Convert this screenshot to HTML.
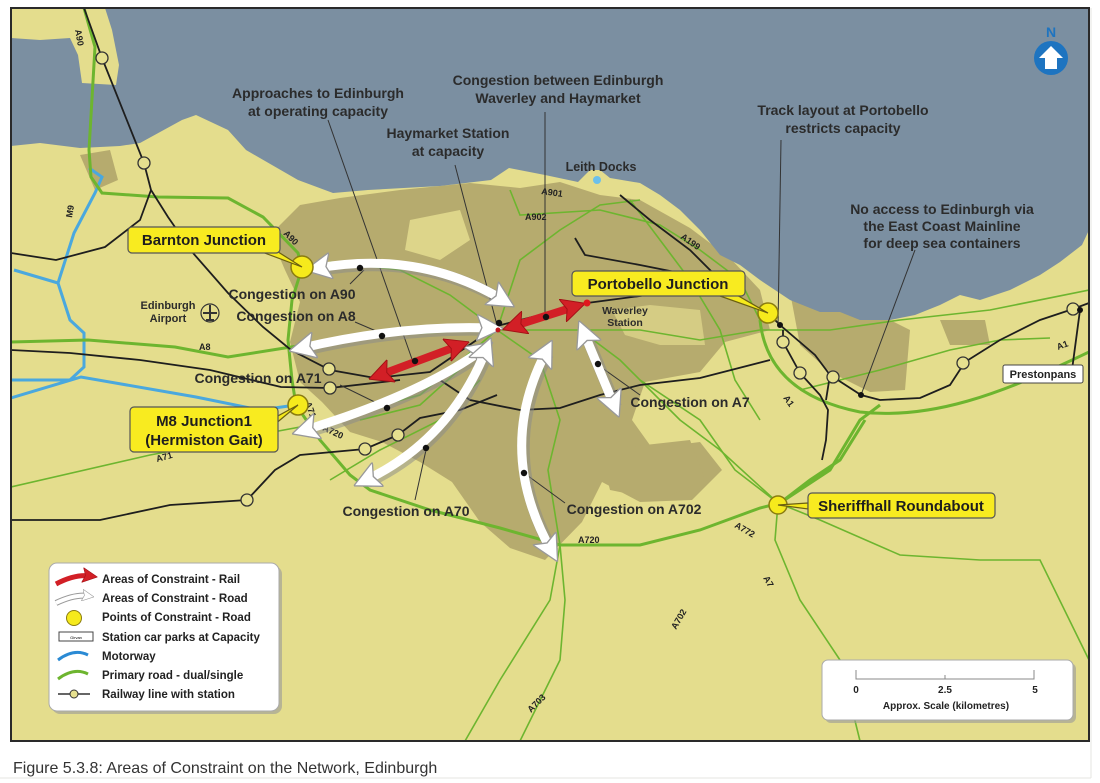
<!DOCTYPE html>
<html><head><meta charset="utf-8">
<style>
html,body{margin:0;padding:0;background:#fff;}
svg{display:block;}
text{font-family:"Liberation Sans",Arial,sans-serif;}
.lb{font-weight:bold;font-size:14px;fill:#2b2b2b;text-anchor:middle;}
.sm{font-weight:bold;font-size:9px;fill:#222;}
.lg{font-weight:bold;font-size:11.5px;fill:#222;}
</style></head>
<body>
<svg width="1100" height="783" viewBox="0 0 1100 783" xmlns="http://www.w3.org/2000/svg">
<defs>
<marker id="wh" viewBox="0 0 10 10" refX="5" refY="5" markerWidth="3" markerHeight="3" orient="auto-start-reverse" markerUnits="strokeWidth">
<path d="M0,0 L10,5 L0,10 L2,5 Z" fill="#fff" stroke="#999" stroke-width="0.5"/>
</marker>
<marker id="rd" viewBox="0 0 10 10" refX="5" refY="5" markerWidth="3" markerHeight="3" orient="auto-start-reverse" markerUnits="strokeWidth">
<path d="M0,0 L10,5 L0,10 L2,5 Z" fill="#d21f26" stroke="#a31015" stroke-width="0.4"/>
</marker>
<clipPath id="cp"><rect x="11" y="8" width="1078" height="733"/></clipPath>
</defs>
<rect width="1100" height="783" fill="#fff"/>
<g clip-path="url(#cp)">
<rect x="11" y="8" width="1078" height="733" fill="#e4dd8d"/>
<path d="M270,235 L300,205 L340,198 L400,190 L470,183 L520,188 L560,182 L600,195 L640,200 L690,228 L730,258 L760,290 L770,330 L725,342 L700,372 L645,382 L632,420 L652,448 L700,442 L722,470 L692,500 L640,502 L602,482 L582,522 L545,560 L510,548 L480,522 L452,482 L420,462 L382,442 L350,432 L322,402 L300,382 L290,342 L300,302 L285,270 Z" fill="#b6ab6e"/>
<path d="M410,220 L460,210 L470,240 L440,260 L405,250 Z" fill="#ddd58a"/>
<path d="M612,310 L650,305 L700,310 L705,345 L660,345 L625,335 Z" fill="#ddd58a" opacity="0.8"/>
<path d="M790,292 L850,300 L910,330 L905,390 L870,392 L830,372 L800,345 Z" fill="#b6ab6e"/>
<path d="M940,320 L985,320 L990,345 L950,345 Z" fill="#b6ab6e"/>
<path d="M600,450 L690,440 L705,480 L660,500 L610,490 Z" fill="#b6ab6e"/>
<path d="M80,155 L110,150 L118,180 L95,190 Z" fill="#b6ab6e"/>
<path d="M105,8 L1089,8 L1089,230 L1082,245 L1060,262 L1040,275 L1010,290 L980,300 L960,295 L940,305 L915,315 L890,320 L860,320 L840,312 L820,312 L790,300 L775,290 L760,280 L740,265 L720,255 L700,230 L680,210 L660,195 L640,183 L610,178 L600,170 L590,170 L578,182 L545,175 L509,168 L491,180 L440,186 L368,190 L333,193 L298,180 L246,150 L228,130 L196,115 L182,120 L140,143 L120,146 L80,148 L40,143 L11,146 L11,38 L40,40 L70,38 L78,55 L82,83 L116,85 L119,65 L112,30 Z" fill="#7b8fa1"/>
<circle cx="597" cy="180" r="4" fill="#6cc0ea"/>
<g fill="none" stroke="#4aa8de" stroke-width="3">
<path d="M89,168 L102,177 L95,193 L74,233 L58,283 L70,320 L84,333 L84,367 L70,380 L11,380"/>
<path d="M58,283 L14,270"/>
<path d="M11,398 L81,377 L196,397 L260,410 L296,405"/>
</g>
<g fill="none" stroke="#6db52f" stroke-width="3">
<path d="M84,8 L95,47 L89,150 L91,177 L102,193 L158,197 L228,198 L263,217 L298,253 L302,268"/>
<path d="M302,268 L292,300 L288,340 L292,380 L296,405"/>
<path d="M296,405 L320,440 L350,475 L370,490 L430,510 L500,528 L560,545 L640,545 L700,530 L760,508 L780,503 L830,470 L860,420 L880,405"/>
<path d="M780,503 L810,480 L840,460 L865,420"/>
<path d="M760,320 C765,370 800,400 860,412 C930,420 1000,395 1089,352"/>
<path d="M11,342 L88,340 L175,347 L228,357 L291,347 L380,335 L497,328"/>
</g>
<g fill="none" stroke="#6db52f" stroke-width="1.6">
<path d="M11,487 L150,455 L300,427 L420,395 L497,330"/>
<path d="M497,330 L520,260 L560,230 L600,205 L640,200"/>
<path d="M497,330 L450,295 L400,270 L330,262"/>
<path d="M510,190 L520,215 L600,210 L660,225 L700,250 L740,280 L760,320"/>
<path d="M497,330 L580,330 L640,330 L700,340 L760,330 L830,330 L900,320 L990,310 L1089,290"/>
<path d="M497,330 L540,360 L560,420 L548,470 L560,545 L550,600 L500,680 L465,741"/>
<path d="M560,545 L565,600 L560,660 L520,741"/>
<path d="M580,330 L620,360 L680,420 L720,450 L778,503 L775,540 L800,600 L840,660 L860,741"/>
<path d="M640,380 L700,420 L735,470 L778,503 L820,520 L900,555 L980,560 L1040,560 L1089,660"/>
<path d="M800,390 L840,380 L880,370 L950,350 L1000,340 L1050,338"/>
<path d="M360,420 L420,405 L470,360"/>
<path d="M330,480 L380,450 L440,420 L480,380"/>
<path d="M630,200 L660,240 L690,280 L720,330 L735,380 L760,420"/>
</g>
<g fill="none" stroke="#1e1e1e" stroke-width="1.8">
<path d="M84,8 L102,58 L144,163 L151,190 L168,217 L193,253 L228,293 L263,327 L291,350 L330,370 L375,378 L430,372 L497,326"/>
<path d="M151,190 L140,220 L105,247 L56,260 L11,253"/>
<path d="M11,350 L70,353 L140,360 L210,370 L281,387 L330,388 L400,380"/>
<path d="M11,520 L100,520 L170,505 L247,500 L275,470 L300,455 L365,449 L398,435 L420,418 L460,410 L497,395"/>
<path d="M440,380 L470,400 L520,410 L560,408 L600,395 L640,385 L700,378 L770,360"/>
<path d="M497,326 L540,315 L587,303 L640,296 L700,285 L740,300 L768,313 L780,325 L815,355 L830,375 L861,395 L880,400 L920,398 L950,385 L965,362 L1000,340 L1040,320 L1073,309 L1089,303"/>
<path d="M783,330 L783,342 L800,373 L820,395 L828,410 L826,440 L822,460"/>
<path d="M830,375 L826,400"/>
<path d="M575,238 L585,255 L640,265 L690,275 L740,300"/>
<path d="M620,195 L650,220 L690,250 L715,275 L740,300"/>
<path d="M1080,310 L1072,370 L1075,372"/>
</g>
<g fill="#e6e08f" stroke="#333" stroke-width="1.3">
<circle cx="102" cy="58" r="6"/><circle cx="144" cy="163" r="6"/>
<circle cx="329" cy="369" r="6"/><circle cx="330" cy="388" r="6"/>
<circle cx="247" cy="500" r="6"/><circle cx="365" cy="449" r="6"/><circle cx="398" cy="435" r="6"/>
<circle cx="783" cy="342" r="6"/><circle cx="800" cy="373" r="6"/><circle cx="833" cy="377" r="6"/>
<circle cx="963" cy="363" r="6"/><circle cx="1073" cy="309" r="6"/>
</g>
<text class="sm" transform="translate(75,30) rotate(80)">A90</text>
<text class="sm" transform="translate(72,218) rotate(-80)">M9</text>
<text class="sm" transform="translate(283,234) rotate(45)">A90</text>
<text class="sm" x="199" y="350">A8</text>
<text class="sm" transform="translate(305,403) rotate(70)">A71</text>
<text class="sm" transform="translate(322,430) rotate(25)">A720</text>
<text class="sm" transform="translate(157,462) rotate(-15)">A71</text>
<text class="sm" x="541" y="194" transform="rotate(8 541 194)">A901</text>
<text class="sm" x="525" y="220">A902</text>
<text class="sm" transform="translate(680,238) rotate(35)">A199</text>
<text class="sm" transform="translate(783,398) rotate(55)">A1</text>
<text class="sm" transform="translate(1058,350) rotate(-20)">A1</text>
<text class="sm" x="578" y="543">A720</text>
<text class="sm" transform="translate(734,527) rotate(30)">A772</text>
<text class="sm" transform="translate(763,578) rotate(60)">A7</text>
<text class="sm" transform="translate(676,630) rotate(-60)">A702</text>
<text class="sm" transform="translate(531,713) rotate(-45)">A703</text>
<g stroke="#333" stroke-width="1" fill="none">
<path d="M328,120 L413,362"/><path d="M455,165 L497,325"/><path d="M545,112 L545,316"/>
<path d="M781,140 L778,327"/><path d="M915,250 L861,395"/>
<path d="M350,284 L364,270"/><path d="M355,322 L383,334"/><path d="M340,385 L387,408"/>
<path d="M415,500 L426,450"/><path d="M565,503 L524,473"/><path d="M640,395 L598,365"/>
</g>
<g fill="none">
<g stroke="#8a8a8a" stroke-width="12" opacity="0.5" transform="translate(2,2)">
<path d="M318,268 Q420,250 503,300"/><path d="M302,348 Q400,325 490,328"/>
<path d="M305,430 Q420,395 482,350"/><path d="M366,480 Q450,440 486,350"/>
<path d="M546,352 Q495,450 551,550"/><path d="M584,333 L614,405"/>
</g>
<g stroke="#fff" stroke-width="9" marker-start="url(#wh)" marker-end="url(#wh)">
<path d="M318,268 Q420,250 503,300"/><path d="M302,348 Q400,325 490,328"/>
<path d="M305,430 Q420,395 482,350"/><path d="M366,480 Q450,440 486,350"/>
<path d="M546,352 Q495,450 551,550"/><path d="M584,333 L614,405"/>
</g>
<g stroke="#d21f26" stroke-width="8" marker-start="url(#rd)" marker-end="url(#rd)">
<path d="M380,375 L458,346"/><path d="M514,326 L574,307"/>
</g>
</g>
<g fill="#111">
<circle cx="360" cy="268" r="3.2"/><circle cx="382" cy="336" r="3.2"/><circle cx="415" cy="361" r="3.2"/>
<circle cx="387" cy="408" r="3.2"/><circle cx="426" cy="448" r="3.2"/><circle cx="546" cy="317" r="3.2"/>
<circle cx="524" cy="473" r="3.2"/><circle cx="598" cy="364" r="3.2"/><circle cx="499" cy="323" r="3.2"/>
<circle cx="780" cy="325" r="3"/><circle cx="861" cy="395" r="3"/><circle cx="1080" cy="310" r="3"/>
</g>
<circle cx="587" cy="303" r="3.5" fill="#e0181e"/>
<circle cx="498" cy="330" r="2.5" fill="#c0181e"/>
<g fill="#f6ea1c" stroke="#8a7c10" stroke-width="1.5">
<circle cx="302" cy="267" r="11"/><circle cx="298" cy="405" r="10"/><circle cx="768" cy="313" r="10"/><circle cx="778" cy="505" r="9"/>
</g>
<g stroke="#6b6010" stroke-width="1.2" fill="#f6ea1c">
<path d="M275,250 L302,267 L262,252 Z"/><path d="M268,430 L298,405 L276,417 Z"/>
<path d="M735,294 L768,313 L720,296 Z"/><path d="M808,503 L778,505 L808,509 Z"/>
</g>
<g stroke="#555" stroke-width="1.2" fill="#f8eb20">
<rect x="128" y="227" width="152" height="26" rx="4"/>
<rect x="130" y="407" width="148" height="45" rx="4"/>
<rect x="572" y="271" width="173" height="25" rx="4"/>
<rect x="808" y="493" width="187" height="25" rx="4"/>
</g>
<text x="204" y="245" font-size="15" font-weight="bold" text-anchor="middle" fill="#1e1e1e">Barnton Junction</text>
<text x="204" y="426" font-size="15" font-weight="bold" text-anchor="middle" fill="#1e1e1e">M8 Junction1</text>
<text x="204" y="445" font-size="15" font-weight="bold" text-anchor="middle" fill="#1e1e1e">(Hermiston Gait)</text>
<text x="658" y="289" font-size="15" font-weight="bold" text-anchor="middle" fill="#1e1e1e">Portobello Junction</text>
<text x="901" y="511" font-size="15" font-weight="bold" text-anchor="middle" fill="#1e1e1e">Sheriffhall Roundabout</text>
<rect x="1003" y="365" width="80" height="18" rx="2" fill="#fff" stroke="#444" stroke-width="1"/>
<text x="1043" y="378" font-size="11" font-weight="bold" text-anchor="middle" fill="#222">Prestonpans</text>
<text class="lb" x="318" y="98">Approaches to Edinburgh</text>
<text class="lb" x="318" y="116">at operating capacity</text>
<text class="lb" x="558" y="85">Congestion between Edinburgh</text>
<text class="lb" x="558" y="103">Waverley and Haymarket</text>
<text class="lb" x="448" y="138">Haymarket Station</text>
<text class="lb" x="448" y="156">at capacity</text>
<text class="lb" x="843" y="115">Track layout at Portobello</text>
<text class="lb" x="843" y="133">restricts capacity</text>
<text x="601" y="171" font-size="12.5" font-weight="bold" text-anchor="middle" fill="#2b2b2b">Leith Docks</text>
<text class="lb" x="942" y="214">No access to Edinburgh via</text>
<text class="lb" x="942" y="231">the East Coast Mainline</text>
<text class="lb" x="942" y="248">for deep sea containers</text>
<text class="lb" x="292" y="299" font-size="13.5">Congestion on A90</text>
<text class="lb" x="296" y="321" font-size="13.5">Congestion on A8</text>
<text class="lb" x="258" y="383" font-size="13.5">Congestion on A71</text>
<text class="lb" x="690" y="407" font-size="13.5">Congestion on A7</text>
<text class="lb" x="406" y="516" font-size="13.5">Congestion on A70</text>
<text class="lb" x="634" y="514" font-size="13.5">Congestion on A702</text>
<text x="168" y="309" font-size="11" font-weight="bold" text-anchor="middle" fill="#2b2b2b">Edinburgh</text>
<text x="168" y="322" font-size="11" font-weight="bold" text-anchor="middle" fill="#2b2b2b">Airport</text>
<circle cx="210" cy="313" r="9" fill="none" stroke="#333" stroke-width="1.2"/>
<path d="M210,305 L210,321 M203,313 L217,313 M206,320 L214,320" stroke="#333" stroke-width="2"/>
<text x="625" y="314" font-size="10.5" font-weight="bold" text-anchor="middle" fill="#2b2b2b">Waverley</text>
<text x="625" y="326" font-size="10.5" font-weight="bold" text-anchor="middle" fill="#2b2b2b">Station</text>
<text x="1051" y="37" font-size="14" font-weight="bold" text-anchor="middle" fill="#1e74c0">N</text>
<circle cx="1051" cy="58" r="17" fill="#1e74c0"/>
<path d="M1051,46 L1063,58 L1057,58 L1057,69 L1045,69 L1045,58 L1039,58 Z" fill="#fff"/>
<rect x="52" y="566" width="230" height="148" rx="8" fill="#999" opacity="0.6"/>
<rect x="49" y="563" width="230" height="148" rx="8" fill="#fff" stroke="#aaa"/>
<path d="M56,584 Q75,574 90,576" stroke="#d21f26" stroke-width="5" fill="none" marker-end="url(#rd)"/>
<path d="M56,603 Q75,594 88,596" stroke="#999" stroke-width="6" fill="none"/>
<path d="M56,603 Q75,594 88,596" stroke="#fff" stroke-width="4" fill="none" marker-end="url(#wh)"/>
<circle cx="74" cy="618" r="7.5" fill="#f6ea1c" stroke="#8a7c10"/>
<rect x="59" y="632" width="34" height="9" fill="#fff" stroke="#444" stroke-width="1"/>
<text x="76" y="639" font-size="4" text-anchor="middle">Girvan</text>
<path d="M58,660 Q74,648 88,655" stroke="#2a8ad4" stroke-width="3" fill="none"/>
<path d="M58,679 Q74,667 88,674" stroke="#6db52f" stroke-width="3" fill="none"/>
<path d="M58,694 L90,694" stroke="#333" stroke-width="1.5"/>
<circle cx="74" cy="694" r="4" fill="#e6e08f" stroke="#333"/>
<text class="lg" x="102" y="583">Areas of Constraint - Rail</text>
<text class="lg" x="102" y="602">Areas of Constraint - Road</text>
<text class="lg" x="102" y="621">Points of Constraint - Road</text>
<text class="lg" x="102" y="641">Station car parks at Capacity</text>
<text class="lg" x="102" y="660">Motorway</text>
<text class="lg" x="102" y="679">Primary road - dual/single</text>
<text class="lg" x="102" y="698">Railway line with station</text>
<rect x="825" y="663" width="251" height="60" rx="6" fill="#999" opacity="0.6"/>
<rect x="822" y="660" width="251" height="60" rx="6" fill="#fff" stroke="#aaa"/>
<path d="M856,670 L856,679 L1034,679 L1034,670 M945,675 L945,679" stroke="#888" stroke-width="1" fill="none"/>
<text x="856" y="693" font-size="10" font-weight="bold" text-anchor="middle" fill="#222">0</text>
<text x="945" y="693" font-size="10" font-weight="bold" text-anchor="middle" fill="#222">2.5</text>
<text x="1035" y="693" font-size="10" font-weight="bold" text-anchor="middle" fill="#222">5</text>
<text x="946" y="709" font-size="10" font-weight="bold" text-anchor="middle" fill="#222">Approx. Scale (kilometres)</text>
</g>
<rect x="11" y="8" width="1078" height="733" fill="none" stroke="#2a2a2a" stroke-width="2"/>
<line x1="1091" y1="8" x2="1091" y2="778" stroke="#e6e6e0" stroke-width="1"/>
<line x1="0" y1="778" x2="1091" y2="778" stroke="#e6e6e0" stroke-width="1"/>
<text x="13" y="773" font-size="16" fill="#333">Figure 5.3.8: Areas of Constraint on the Network, Edinburgh</text>
</svg>
</body></html>
